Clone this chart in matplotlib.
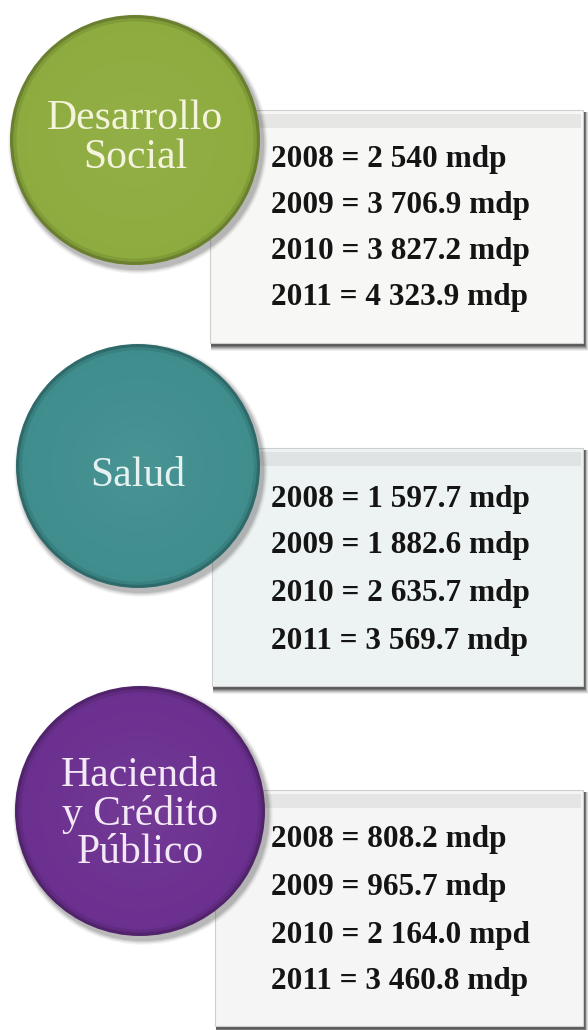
import matplotlib
matplotlib.use("Agg")
import matplotlib.pyplot as plt
from matplotlib.patches import Circle, Rectangle
import matplotlib.colors as mcolors
import numpy as np

# ---------------- data ----------------
categories = ["Desarrollo\nSocial", "Salud", "Hacienda\ny Crédito\nPúblico"]
years = [2008, 2009, 2010, 2011]
values_desarrollo = ["2 540", "3 706.9", "3 827.2", "4 323.9"]
values_salud = ["1 597.7", "1 882.6", "2 635.7", "3 569.7"]
values_hacienda = ["808.2", "965.7", "2 164.0", "3 460.8"]
units_desarrollo = ["mdp", "mdp", "mdp", "mdp"]
units_salud = ["mdp", "mdp", "mdp", "mdp"]
units_hacienda = ["mdp", "mdp", "mpd", "mdp"]

# ---------------- style / layout ----------------
circle_colors = ["#8dab3e", "#3f8d8d", "#6b2f8f"]
circle_text_colors = ["#f4f4dc", "#e6f1f1", "#f3e9f6"]
box_fills = ["#f7f7f5", "#edf2f2", "#f5f5f6"]
circle_centers = [(135, 140), (138, 466), (140, 811)]
circle_radius = [125, 122, 125]
circle_text_y = [138, 476, 814]
boxes = [(210, 110, 373, 233), (212, 448, 371, 238), (215, 790, 368, 236)]
line_y = [[160, 206, 252, 298], [499, 546, 593, 641], [840, 888, 936, 982]]
text_x = 271

W, H = 588, 1030
fig = plt.figure(figsize=(W / 100, H / 100), dpi=100)
ax = fig.add_axes([0, 0, 1, 1])
ax.set_xlim(0, W)
ax.set_ylim(H, 0)
ax.axis("off")
fig.patch.set_facecolor("white")

serif = ["Liberation Serif", "DejaVu Serif"]


def shade(color, f):
    c = np.array(mcolors.to_rgb(color))
    if f < 0:
        return tuple(c * (1 + f))
    return tuple(c + (1 - c) * f)


def draw_box(x, y, w, h, fill):
    # shadow on bottom/right
    for k, a in zip(range(6, 0, -1), [0.10, 0.16, 0.24, 0.34, 0.48, 0.62]):
        ax.add_patch(Rectangle((x + 1, y + 2), w + k * 0.8, h + k * 1.0,
                               facecolor="#333333", edgecolor="none", alpha=a * 0.7, zorder=1))
    ax.add_patch(Rectangle((x, y), w, h, facecolor=fill, edgecolor="#cfcfcf",
                           linewidth=0.8, zorder=2))
    # faint grey band near the top (scan)
    ax.add_patch(Rectangle((x + 2, y + 4), w - 4, 14, facecolor="#d2d2d2",
                           edgecolor="none", alpha=0.45, zorder=2))


def draw_circle(cx, cy, r, color):
    # drop shadow
    for k, a in zip(range(8, 0, -2), [0.05, 0.08, 0.11, 0.14]):
        ax.add_patch(Circle((cx + 3, cy + 4), r + k * 0.6, facecolor="#333333",
                            edgecolor="none", alpha=a, zorder=3))
    n = 40
    for i in range(n):
        t = i / (n - 1)
        rr = r * (1 - t)
        if rr <= 0:
            break
        if rr > r - 5:
            col = shade(color, -0.25 * (rr - (r - 5)) / 5)
        else:
            col = shade(color, 0.05 * t)
        ax.add_patch(Circle((cx, cy), rr, facecolor=col, edgecolor="none", zorder=5))


all_values = [values_desarrollo, values_salud, values_hacienda]
all_units = [units_desarrollo, units_salud, units_hacienda]

for i, cat in enumerate(categories):
    bx, by, bw, bh = boxes[i]
    draw_box(bx, by, bw, bh, box_fills[i])
    for j, yr in enumerate(years):
        ax.text(text_x, line_y[i][j], f"{yr} = {all_values[i][j]} {all_units[i][j]}",
                fontsize=22.5, fontweight="bold", family=serif, color="#141414",
                ha="left", va="center", zorder=6)
    cx, cy = circle_centers[i]
    draw_circle(cx, cy, circle_radius[i], circle_colors[i])
    ax.text(cx, circle_text_y[i], cat, fontsize=30, family=serif, color=circle_text_colors[i],
            ha="center", va="center", multialignment="center", linespacing=1.0, zorder=7)

fig.savefig("out.png", dpi=100, facecolor="white")
